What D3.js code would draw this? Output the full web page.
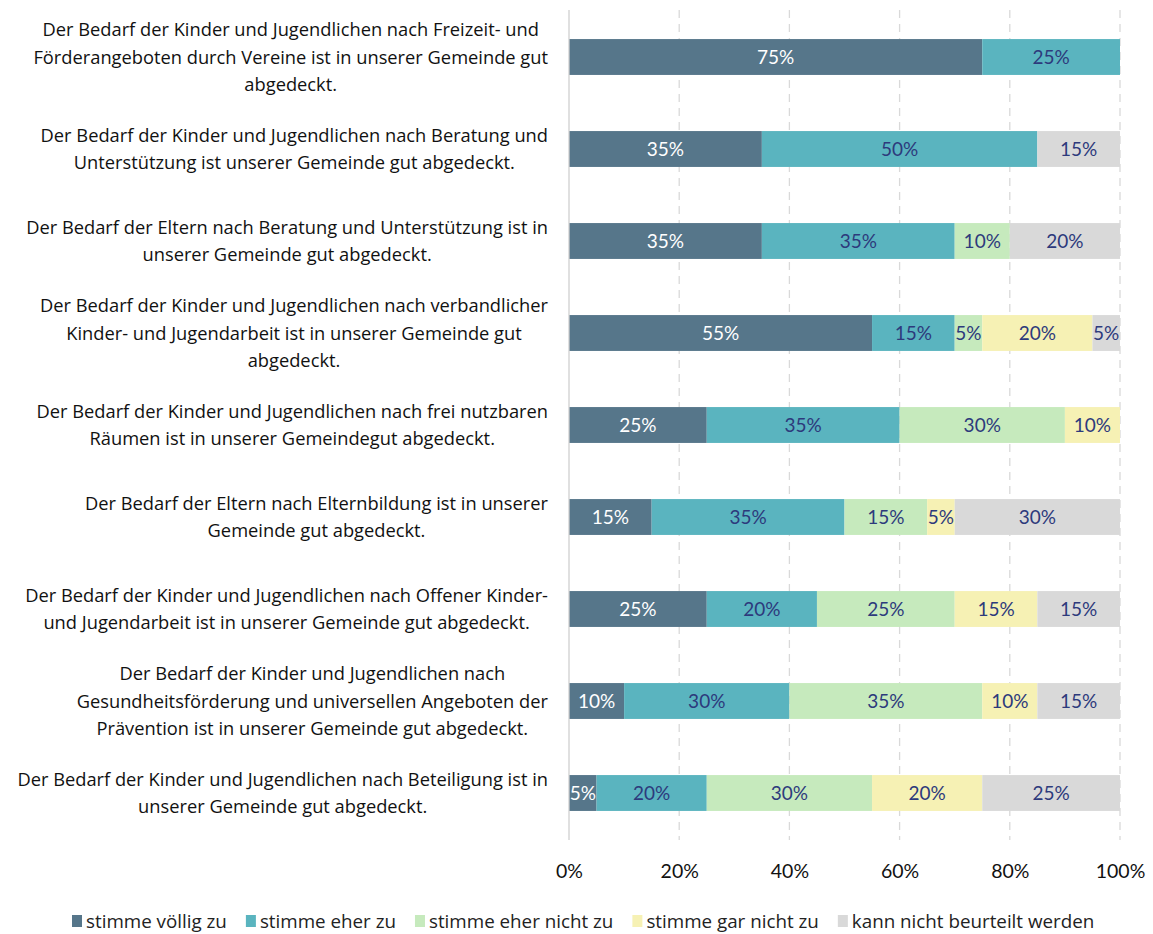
<!DOCTYPE html>
<html>
<head>
<meta charset="utf-8">
<script src="https://cdn.jsdelivr.net/npm/d3@7"></script>
<style>
  body { margin: 0; background: #fff; }
  text { font-family: Lato, "Open Sans", sans-serif; }
</style>
</head>
<body>
<div id="chart"></div>
<script>
// Kategorien (Zeilen, jeweils in Zeilen umbrochen)
const categories = [
  ["Der Bedarf der Kinder und Jugendlichen nach Freizeit- und", "Förderangeboten durch Vereine ist in unserer Gemeinde gut", "abgedeckt."],
  ["Der Bedarf der Kinder und Jugendlichen nach Beratung und", "Unterstützung ist unserer Gemeinde gut abgedeckt."],
  ["Der Bedarf der Eltern nach Beratung und Unterstützung ist in", "unserer Gemeinde gut abgedeckt."],
  ["Der Bedarf der Kinder und Jugendlichen nach verbandlicher", "Kinder- und Jugendarbeit ist in unserer Gemeinde gut", "abgedeckt."],
  ["Der Bedarf der Kinder und Jugendlichen nach frei nutzbaren", "Räumen ist in unserer Gemeindegut abgedeckt."],
  ["Der Bedarf der Eltern nach Elternbildung ist in unserer", "Gemeinde gut abgedeckt."],
  ["Der Bedarf der Kinder und Jugendlichen nach Offener Kinder-", "und Jugendarbeit ist in unserer Gemeinde gut abgedeckt."],
  ["Der Bedarf der Kinder und Jugendlichen nach", "Gesundheitsförderung und universellen Angeboten der", "Prävention ist in unserer Gemeinde gut abgedeckt."],
  ["Der Bedarf der Kinder und Jugendlichen nach Beteiligung ist in", "unserer Gemeinde gut abgedeckt."]
];

const seriesNames = ["stimme völlig zu", "stimme eher zu", "stimme eher nicht zu", "stimme gar nicht zu", "kann nicht beurteilt werden"];

// Werte in Prozent, je Serie
const voelligZu    = [75, 35, 35, 55, 25, 15, 25, 10, 5];
const eherZu       = [25, 50, 35, 15, 35, 35, 20, 30, 20];
const eherNichtZu  = [0, 0, 10, 5, 30, 15, 25, 35, 30];
const garNichtZu   = [0, 0, 0, 20, 10, 5, 15, 10, 20];
const nichtBeurt   = [0, 15, 20, 5, 0, 30, 15, 15, 25];

const xTicks = [0, 20, 40, 60, 80, 100];

const colors = ["#56768a", "#5ab4bf", "#c6eabd", "#f6f1b4", "#d9d9d9"];
const labelColors = ["#ffffff", "#2d3a7c", "#2d3a7c", "#2d3a7c", "#2d3a7c"];

const values = [voelligZu, eherZu, eherNichtZu, garNichtZu, nichtBeurt];
const rows = categories.map((c, i) => {
  const r = { id: i };
  seriesNames.forEach((s, j) => r[s] = values[j][i]);
  return r;
});

const W = 1153, H = 934;
const svg = d3.select("#chart").append("svg")
    .attr("width", W)
    .attr("height", H);

const x = d3.scaleLinear().domain([0, 100]).range([569, 1120]);
const y = d3.scaleBand()
    .domain(rows.map(d => d.id))
    .range([11, 839])
    .paddingInner(0.61)
    .paddingOuter(0.305);

// Gitterlinien
svg.append("g")
  .selectAll("line")
  .data(xTicks.slice(1))
  .enter().append("line")
    .attr("x1", d => x(d)).attr("x2", d => x(d))
    .attr("y1", 10).attr("y2", 840)
    .attr("stroke", "#d9d9d9")
    .attr("stroke-width", 1.3)
    .attr("stroke-dasharray", "8,6");

// gestapelte Balken
const stack = d3.stack().keys(seriesNames);
const stacked = stack(rows);

const layers = svg.append("g")
  .selectAll("g")
  .data(stacked)
  .enter().append("g")
    .attr("fill", (d, i) => colors[i]);

layers.selectAll("rect")
  .data(d => d.filter(p => p[1] - p[0] > 0))
  .enter().append("rect")
    .attr("x", d => x(d[0]))
    .attr("y", d => y(d.data.id))
    .attr("width", d => x(d[1]) - x(d[0]))
    .attr("height", y.bandwidth());

// Wertelabels
layers.each(function(layer, i) {
  d3.select(this).selectAll("text")
    .data(layer.filter(p => p[1] - p[0] > 0))
    .enter().append("text")
      .attr("x", d => (x(d[0]) + x(d[1])) / 2)
      .attr("y", d => y(d.data.id) + y.bandwidth() / 2)
      .attr("dy", "0.36em")
      .attr("text-anchor", "middle")
      .attr("fill", labelColors[i])
      .style("font-size", "19px")
      .text(d => (d[1] - d[0]) + "%");
});

// Achse links
svg.append("line")
  .attr("x1", x(0)).attr("x2", x(0))
  .attr("y1", 10).attr("y2", 840)
  .attr("stroke", "#d0d0d0")
  .attr("stroke-width", 1.3);

// Kategorie-Labels
const lineH = 27.5;
const catG = svg.append("g");
categories.forEach((lines, i) => {
  const cy = y(i) + y.bandwidth() / 2;
  const t = catG.append("text")
    .attr("text-anchor", "middle")
    .attr("fill", "#111")
    .style("font-family", "'Open Sans', sans-serif")
    .style("font-size", "18.3px");
  lines.forEach((l, k) => {
    t.append("tspan")
      .attr("y", cy + (k - (lines.length - 1) / 2) * lineH)
      .attr("dy", "0.36em")
      .text(l);
  });
  // Zeilen zentriert, Block rechtsbündig
  let maxW = 0;
  t.selectAll("tspan").each(function() { maxW = Math.max(maxW, this.getComputedTextLength()); });
  t.selectAll("tspan").attr("x", 548 - maxW / 2);
});

// X-Achse
const xAxis = svg.append("g")
  .attr("transform", "translate(0,871)")
  .call(d3.axisBottom(x).tickValues(xTicks).tickFormat(d => d + "%").tickSize(0));
xAxis.select(".domain").remove();
xAxis.selectAll("text")
  .attr("dy", "0.36em")
  .attr("y", 0)
  .attr("fill", "#111")
  .style("font-size", "19.5px")
  .style("font-family", "Lato, sans-serif");

// Legende
const legend = svg.append("g").attr("transform", "translate(0,921)");
let lx = 72;
seriesNames.forEach((s, i) => {
  const g = legend.append("g").attr("transform", `translate(${lx},0)`);
  g.append("rect")
    .attr("x", 0).attr("y", -6)
    .attr("width", 10).attr("height", 12)
    .attr("fill", colors[i]);
  const t = g.append("text")
    .attr("x", 14).attr("dy", "0.36em")
    .attr("fill", "#222")
    .style("font-family", "'Open Sans', sans-serif")
    .style("font-size", "18.8px")
    .text(s);
  lx += 14 + t.node().getComputedTextLength() + 19;
});
</script>
</body>
</html>
